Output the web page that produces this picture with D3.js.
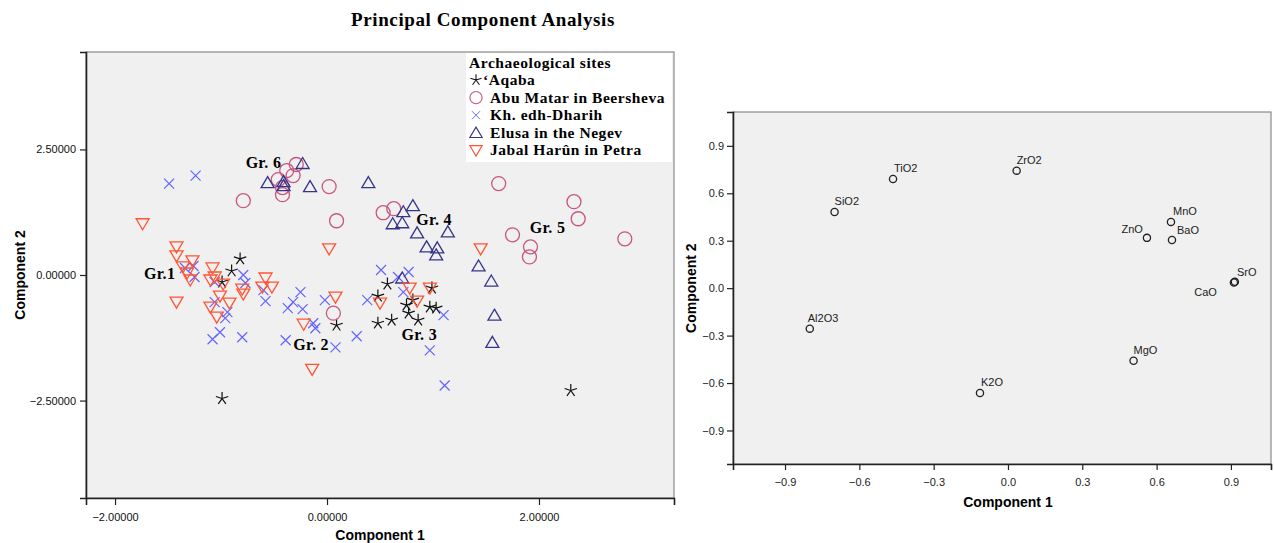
<!DOCTYPE html>
<html>
<head>
<meta charset="utf-8">
<script src="https://cdn.jsdelivr.net/npm/d3@7"></script>
<style>
  body { margin: 0; background: #fff; }
  svg { display: block; }
</style>
</head>
<body>
<div id="chart"></div>
<script>
// ---- data: component scores per site (Component 1, Component 2) ----
const aqaba = [[-0.82,0.32],[-0.90,0.08],[-0.99,-0.14],[-0.99,-2.46],[0.09,-1.00],[0.48,-0.42],[0.48,-0.96],
  [0.57,-0.18],[0.61,-0.90],[0.75,-0.60],[0.77,-0.76],[0.86,-0.90],[0.97,-0.64],[1.03,-0.66],[0.99,-0.26],
  [0.81,-0.50],[2.30,-2.30]]
const abuMatar = [[-0.79,1.48],[-0.46,1.90],[-0.42,1.74],[-0.42,1.60],[-0.38,2.08],[-0.32,1.98],[-0.29,2.20],
  [0.02,1.76],[0.09,1.08],[0.53,1.24],[0.63,1.32],[1.62,1.82],[2.33,1.46],[2.37,1.12],[1.75,0.80],
  [1.92,0.56],[1.91,0.36],[2.81,0.72],[0.06,-0.76]]
const dharih = [[-1.49,1.82],[-1.24,1.98],[-1.34,0.14],[-1.26,0.18],[-1.25,-0.04],[-1.06,-0.14],[-0.79,0.00],
  [-0.77,-0.16],[-0.60,-0.30],[-0.58,-0.52],[-1.06,-0.54],[-0.94,-0.74],[-0.96,-0.86],[-1.01,-1.14],
  [-1.08,-1.28],[-0.80,-1.24],[-0.37,-0.66],[-0.32,-0.54],[-0.25,-0.34],[-0.23,-0.68],[-0.13,-0.96],
  [-0.11,-1.06],[-0.02,-0.50],[-0.39,-1.30],[0.08,-1.44],[0.28,-1.22],[0.38,-0.50],[0.51,0.10],
  [0.67,-0.04],[0.77,0.06],[0.72,-0.34],[1.10,-0.80],[0.97,-1.50],[1.11,-2.20]]
const elusa = [[-0.56,1.84],[-0.41,1.86],[-0.41,1.78],[-0.23,2.22],[-0.16,1.76],[0.39,1.84],[0.72,1.26],
  [0.81,1.38],[0.62,1.02],[0.71,1.04],[0.85,0.84],[1.14,0.86],[0.94,0.56],[1.04,0.54],[1.03,0.40],
  [1.43,0.18],[1.55,-0.12],[1.58,-0.80],[1.56,-1.34],[0.71,-0.06]]
const harun = [[-1.74,1.02],[-1.42,0.56],[-1.42,0.38],[-1.27,0.28],[-1.36,0.16],[-1.32,0.04],[-1.29,-0.10],
  [-1.42,-0.54],[-1.08,0.14],[-1.10,-0.10],[-1.06,-0.04],[-0.98,-0.18],[-1.01,-0.42],[-0.92,-0.56],
  [-1.10,-0.64],[-1.04,-0.84],[-0.80,-0.28],[-0.79,-0.38],[-0.61,-0.24],[-0.58,-0.06],[-0.52,-0.24],
  [0.02,0.52],[0.08,-0.44],[-0.22,-0.98],[-0.14,-1.88],[0.78,-0.26],[0.97,-0.26],[0.85,-0.52],
  [0.50,-0.56],[1.45,0.52]]

const siteNames = ["\u2018Aqaba", "Abu Matar in Beersheva", "Kh. edh-Dharih", "Elusa in the Negev", "Jabal Har\u00fbn in Petra"]

const groupLabels = ["Gr. 6", "Gr.1", "Gr. 2", "Gr. 3", "Gr. 4", "Gr. 5"]
const groupPos = [[-0.60,2.24],[-1.58,0.04],[-0.15,-1.38],[0.87,-1.18],[1.01,1.10],[2.08,0.94]]

const scoreTicksX = [-2, 0, 2]
const scoreTicksY = [-2.5, 0, 2.5]

// ---- data: component loadings ----
const oxides = ["SiO2","TiO2","ZrO2","MnO","ZnO","BaO","SrO","CaO","Al2O3","K2O","MgO"]
const load1 = [-0.70,-0.464,0.035,0.658,0.561,0.662,0.916,0.912,-0.80,-0.113,0.507]
const load2 = [0.482,0.690,0.743,0.419,0.318,0.305,0.040,0.036,-0.256,-0.663,-0.459]
const loadTicks = [-0.9,-0.6,-0.3,0,0.3,0.6,0.9]

const svg = d3.select("#chart").append("svg")
  .attr("width", 1274)
  .attr("height", 543)

const SERIF = "'Liberation Serif', 'DejaVu Serif', serif"
const SANS = "'Liberation Sans', Arial, sans-serif"

svg.append("text")
  .attr("x", 483).attr("y", 26)
  .attr("text-anchor", "middle")
  .style("font-family", SERIF).style("font-weight", "bold").style("font-size", "19px")
  .style("letter-spacing", "0.6px")
  .text("Principal Component Analysis")

// ================= left: scores =================
const L = { LEFT: 86, RIGHT: 674, TOP: 52, BOTTOM: 498 }

const x = d3.scaleLinear().domain([-2.274, 3.274]).range([L.LEFT, L.RIGHT])
const y = d3.scaleLinear().domain([-4.44, 4.44]).range([L.BOTTOM, L.TOP])

svg.append("rect")
  .attr("x", L.LEFT).attr("y", L.TOP)
  .attr("width", L.RIGHT - L.LEFT).attr("height", L.BOTTOM - L.TOP)
  .attr("fill", "#f0f0f0").attr("stroke", "#8a8a8a").attr("stroke-width", 1.2)

const xAxis = svg.append("g")
  .attr("transform", `translate(0, ${L.BOTTOM})`)
  .call(d3.axisBottom(x).tickValues(scoreTicksX).tickFormat(d3.format(".5f")).tickSizeOuter(0).tickSize(7).tickPadding(8))
const yAxis = svg.append("g")
  .attr("transform", `translate(${L.LEFT}, 0)`)
  .call(d3.axisLeft(y).tickValues(scoreTicksY).tickFormat(d3.format(".5f")).tickSizeOuter(0).tickSize(6).tickPadding(4))

;[xAxis, yAxis].forEach(a => {
  a.select(".domain").attr("stroke", "#222").attr("stroke-width", 1.6)
  a.selectAll(".tick line").attr("stroke", "#222").attr("stroke-width", 1.2)
  a.selectAll("text").style("font-family", SANS).style("font-size", "11px").attr("fill", "#111")
})

svg.append("text")
  .attr("x", (L.LEFT + L.RIGHT) / 2).attr("y", 540)
  .attr("text-anchor", "middle")
  .style("font-family", SANS).style("font-weight", "bold").style("font-size", "14px")
  .text("Component 1")
svg.append("text")
  .attr("transform", `translate(25, ${(L.TOP + L.BOTTOM) / 2}) rotate(-90)`)
  .attr("text-anchor", "middle")
  .style("font-family", SANS).style("font-weight", "bold").style("font-size", "14px")
  .text("Component 2")

// marker shapes
function starPath(r) {
  let p = ""
  for (let k = 0; k < 5; k++) {
    const a = (-90 + k * 72) * Math.PI / 180
    p += `M0,0L${(r * Math.cos(a)).toFixed(2)},${(r * Math.sin(a)).toFixed(2)}`
  }
  return p
}
const shapes = [
  { data: aqaba, color: "#111", path: starPath(6.5), width: 1.2 },
  { data: abuMatar, color: "#c9567f", path: d3.symbol(d3.symbolCircle, 154)(), width: 1.3 },
  { data: dharih, color: "#6464ff", path: "M-5,-5L5,5M-5,5L5,-5", width: 1.2 },
  { data: elusa, color: "#34348a", path: "M0,-6L6.5,5L-6.5,5Z", width: 1.3 },
  { data: harun, color: "#ff5533", path: "M0,6L6.5,-5L-6.5,-5Z", width: 1.3 }
]

const plot = svg.append("g")
shapes.forEach(s => {
  plot.append("g").selectAll("path")
    .data(s.data)
    .enter()
    .append("path")
    .attr("transform", d => `translate(${x(d[0])}, ${y(d[1])})`)
    .attr("d", s.path)
    .attr("fill", "none")
    .attr("stroke", s.color)
    .attr("stroke-width", s.width)
})

svg.append("g").selectAll("text")
  .data(groupLabels)
  .enter()
  .append("text")
  .attr("x", (d, i) => x(groupPos[i][0]))
  .attr("y", (d, i) => y(groupPos[i][1]))
  .attr("text-anchor", "middle")
  .attr("dy", "0.35em")
  .style("font-family", SERIF).style("font-weight", "bold").style("font-size", "16px")
  .style("letter-spacing", "0.3px")
  .text(d => d)

// legend
const legend = svg.append("g").attr("transform", "translate(466, 52)")
legend.append("rect")
  .attr("x", 0).attr("y", 1).attr("width", 206).attr("height", 109)
  .attr("fill", "#fff")
legend.append("text")
  .attr("x", 3).attr("y", 16)
  .style("font-family", SERIF).style("font-weight", "bold").style("font-size", "15.5px")
  .style("letter-spacing", "0.55px")
  .text("Archaeological sites")

const legendRow = legend.selectAll(".row")
  .data(siteNames)
  .enter()
  .append("g")
  .attr("transform", (d, i) => `translate(10, ${28 + i * 17.6})`)
legendRow.append("path")
  .attr("d", (d, i) => i === 1 ? d3.symbol(d3.symbolCircle, 130)() : shapes[i].path)
  .attr("transform", (d, i) => i === 0 ? "scale(0.9)" : (i === 2 ? "scale(0.8)" : "scale(0.95)"))
  .attr("fill", "none")
  .attr("stroke", (d, i) => shapes[i].color)
  .attr("stroke-width", 1.2)
legendRow.append("text")
  .attr("x", (d, i) => i === 0 ? 7 : 14)
  .attr("y", 5)
  .style("font-family", SERIF).style("font-weight", "bold").style("font-size", "15.5px")
  .style("letter-spacing", "0.55px")
  .text(d => d)

// ================= right: loadings =================
const R = { LEFT: 733, RIGHT: 1271, TOP: 112, BOTTOM: 464 }

const x2 = d3.scaleLinear().domain([-1.11, (R.RIGHT - 1008) / 247.7]).range([R.LEFT, R.RIGHT])
const y2 = d3.scaleLinear().domain([-1.112, 1.114]).range([R.BOTTOM, R.TOP])

svg.append("rect")
  .attr("x", R.LEFT).attr("y", R.TOP)
  .attr("width", R.RIGHT - R.LEFT).attr("height", R.BOTTOM - R.TOP)
  .attr("fill", "#f0f0f0").attr("stroke", "#8a8a8a").attr("stroke-width", 1.2)

const xAxis2 = svg.append("g")
  .attr("transform", `translate(0, ${R.BOTTOM})`)
  .call(d3.axisBottom(x2).tickValues(loadTicks).tickFormat(d3.format(".1f")).tickSizeOuter(0).tickSize(6).tickPadding(8))
const yAxis2 = svg.append("g")
  .attr("transform", `translate(${R.LEFT}, 0)`)
  .call(d3.axisLeft(y2).tickValues(loadTicks).tickFormat(d3.format(".1f")).tickSizeOuter(0).tickSize(6).tickPadding(3))

;[xAxis2, yAxis2].forEach(a => {
  a.select(".domain").attr("stroke", "#222").attr("stroke-width", 1.6)
  a.selectAll(".tick line").attr("stroke", "#222").attr("stroke-width", 1.2)
  a.selectAll("text").style("font-family", SANS).style("font-size", "11px").attr("fill", "#222")
})

svg.append("text")
  .attr("x", x2(0)).attr("y", 507)
  .attr("text-anchor", "middle")
  .style("font-family", SANS).style("font-weight", "bold").style("font-size", "14px")
  .text("Component 1")
svg.append("text")
  .attr("transform", `translate(696, ${y2(0)}) rotate(-90)`)
  .attr("text-anchor", "middle")
  .style("font-family", SANS).style("font-weight", "bold").style("font-size", "14px")
  .text("Component 2")

// label offsets next to each loading point
const labelDx = [0, 1, 0, 2, -4, 5, 2, -17, -2, 1, 0]
const labelDy = [-7, -7, -7, -7, -5, -6, -6, 14, -7, -7, -7]
const labelAnchor = ["start","start","start","start","end","start","start","end","start","start","start"]

const loadG = svg.append("g")
loadG.selectAll("circle")
  .data(oxides)
  .enter()
  .append("circle")
  .attr("cx", (d, i) => x2(load1[i]))
  .attr("cy", (d, i) => y2(load2[i]))
  .attr("r", 3.6)
  .attr("fill", "none")
  .attr("stroke", "#222")
  .attr("stroke-width", 1.3)
loadG.selectAll("text")
  .data(oxides)
  .enter()
  .append("text")
  .attr("x", (d, i) => x2(load1[i]) + labelDx[i])
  .attr("y", (d, i) => y2(load2[i]) + labelDy[i])
  .attr("text-anchor", (d, i) => labelAnchor[i])
  .style("font-family", SANS).style("font-size", "11px").attr("fill", "#222")
  .text(d => d)
</script>
</body>
</html>
